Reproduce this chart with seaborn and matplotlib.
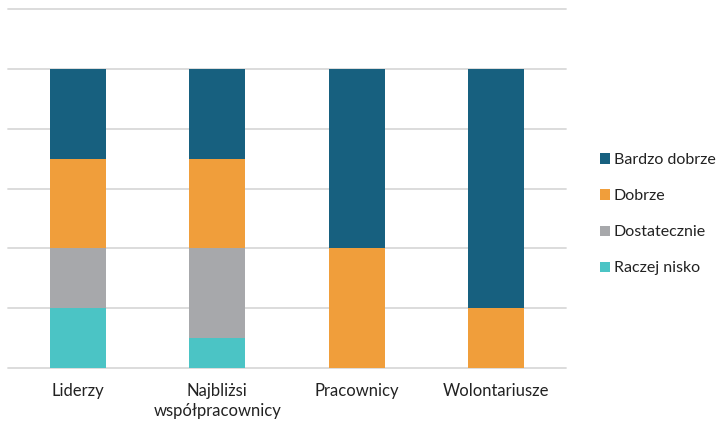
import matplotlib
matplotlib.use("Agg")
import matplotlib.pyplot as plt
from matplotlib.patches import Patch
import numpy as np
import pandas as pd
import seaborn as sns

categories = ["Liderzy", "Najbliżsi\nwspółpracownicy", "Pracownicy", "Wolontariusze"]
series_names = ["Raczej nisko", "Dostatecznie", "Dobrze", "Bardzo dobrze"]
raczej_nisko = [20, 10, 0, 0]
dostatecznie = [20, 30, 0, 0]
dobrze = [30, 30, 40, 20]
bardzo_dobrze = [30, 30, 60, 80]
colors = ["#4bc4c5", "#a7a8ab", "#f09e3b", "#17607f"]

sns.set_theme(style="white")
plt.rcParams["font.family"] = ["Lato", "DejaVu Sans"]

fig = plt.figure(figsize=(7.23, 4.26), dpi=100)
ax = fig.add_axes([8 / 723, 58 / 426, 558 / 723, 359 / 426])

df = pd.DataFrame({
    "kategoria": categories,
    "Raczej nisko": raczej_nisko,
    "Dostatecznie": dostatecznie,
    "Dobrze": dobrze,
    "Bardzo dobrze": bardzo_dobrze,
})

bottom = np.zeros(len(categories))
for name, color in zip(series_names, colors):
    sns.barplot(data=df, x="kategoria", y=name, color=color, width=0.4,
                bottom=bottom, ax=ax, saturation=1, linewidth=0, zorder=3)
    bottom = bottom + df[name].to_numpy()

ax.set_ylim(0, 120)
ax.set_yticks(range(0, 121, 20))
ax.set_yticklabels([])
ax.yaxis.grid(True, color="#d9d9d9", linewidth=1.3, zorder=0)
for gl in ax.get_ygridlines():
    gl.set_clip_on(False)
ax.set_xlim(-0.5, 3.5)
ax.set_xlabel("")
ax.set_ylabel("")
for s in ax.spines.values():
    s.set_visible(False)
ax.tick_params(axis="x", length=0, pad=11, labelsize=12, labelcolor="#222222")
for lbl in ax.get_xticklabels():
    lbl.set_linespacing(1.3)
ax.tick_params(axis="y", length=0)

handles = [Patch(facecolor=c, edgecolor="none") for c in colors[::-1]]
fig.legend(handles, series_names[::-1], loc="center left",
           bbox_to_anchor=(0.821, 0.497), frameon=False, fontsize=11.5,
           handlelength=0.62, handleheight=0.62, handletextpad=0.25,
           labelspacing=1.38, labelcolor="#222222", borderaxespad=0)

fig.savefig("out.png", dpi=100)
